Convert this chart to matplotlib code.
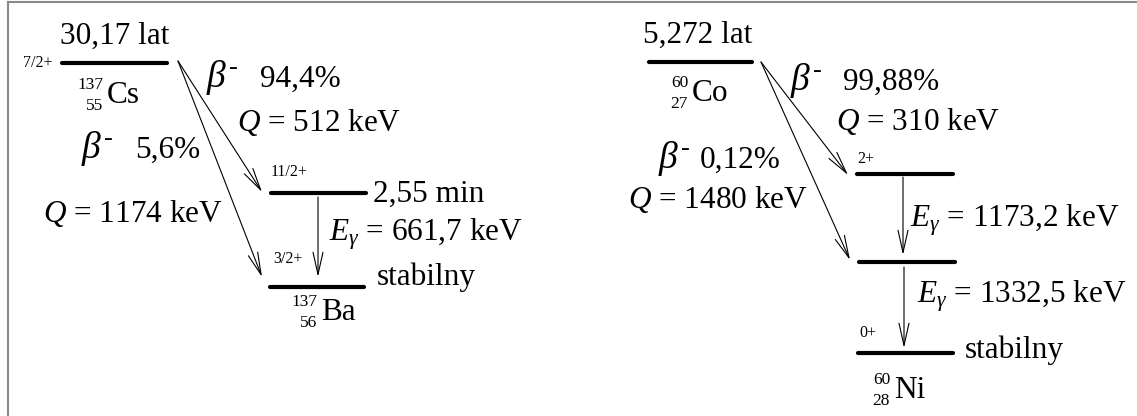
import matplotlib.pyplot as plt

plt.rcParams['font.family'] = 'Liberation Serif'
plt.rcParams['mathtext.fontset'] = 'custom'
plt.rcParams['mathtext.rm'] = 'Liberation Serif'
plt.rcParams['mathtext.it'] = 'Liberation Serif:italic'

# Cs-137 -> Ba-137
cs_halflife = '30,17 lat'
cs_spins = ['7/2+', '11/2+', '3/2+']
cs_branch = ['94,4%', '5,6%']
cs_q = ['512', '1174']
cs_gamma = ['661,7']
ba_states = ['2,55 min', 'stabilny']

# Co-60 -> Ni-60
co_halflife = '5,272 lat'
ni_spins = ['2+', '0+']
co_branch = ['99,88%', '0,12%']
co_q = ['310', '1480']
co_gamma = ['1173,2', '1332,5']
ni_state = 'stabilny'

# nuclides: (A, Z, symbol)
parents = [(137, 55, 'Cs'), (60, 27, 'Co')]
daughters = [(137, 56, 'Ba'), (60, 28, 'Ni')]

# layout in pixel coords of the picture
cs_lvl = [(62, 167, 63), (271, 366, 193), (270, 364, 287)]
co_lvl = [(649, 752, 62), (857, 953, 174), (859, 955, 262), (858, 953, 353)]

BIG = 22.5
SMALL = 11.5
ISO = 12.5

fig = plt.figure(figsize=(11.37, 4.16), dpi=100)
ax = fig.add_axes([0, 0, 1, 1])
ax.set_xlim(0, 1137)
ax.set_ylim(416, 0)
ax.axis('off')

# frame (top and left only)
ax.plot([8, 1137], [2, 2], color='#8a8a8a', lw=1.5)
ax.plot([8, 8], [2, 416], color='#8a8a8a', lw=1.5)


def level(x0, x1, y):
    ax.plot([x0, x1], [y, y], color='black', lw=3, solid_capstyle='round')


def arrow(x0, y0, x1, y1):
    ax.annotate('', xy=(x1, y1), xytext=(x0, y0),
                arrowprops=dict(arrowstyle='->,head_length=0.8,head_width=0.18',
                                color='black', lw=0.8, mutation_scale=20,
                                shrinkA=0, shrinkB=0))


def nuclide(x, y, iso):
    # x = left edge of symbol, y = baseline
    a, z, sym = iso
    ax.text(x, y, sym, fontsize=BIG, ha='left', va='baseline')
    ax.text(x - 4, y - 14, str(a), fontsize=ISO, ha='right', va='baseline')
    ax.text(x - 4, y + 7, str(z), fontsize=ISO, ha='right', va='baseline')


def txt(x, y, s, size=BIG, ha='left'):
    ax.text(x, y, s, fontsize=size, ha=ha, va='baseline')


def beta(x, y, pct, gap=52):
    txt(x - 2, y, r'$\beta^{\text{-}}$', size=27)
    txt(x + gap, y, pct)


# ---- left scheme: Cs-137
for x0, x1, y in cs_lvl:
    level(x0, x1, y)
txt(115, 44, cs_halflife, ha='center')
txt(53, 67, cs_spins[0], SMALL, ha='right')
txt(271, 176, cs_spins[1], SMALL)
txt(273, 263, cs_spins[2], SMALL)
nuclide(107, 103, parents[0])
nuclide(321, 320, daughters[0])

arrow(178, 61, 262, 192)
arrow(178, 61, 262, 277)
arrow(318, 197, 318, 277)

beta(208, 87, cs_branch[0])
txt(237, 131, r'$Q$ = ' + cs_q[0] + ' keV')
beta(83, 158, cs_branch[1])
txt(43, 222, r'$Q$ = ' + cs_q[1] + ' keV')
txt(373, 202, ba_states[0])
txt(329, 240, r'$E_{\gamma}$ = ' + cs_gamma[0] + ' keV')
txt(377, 285, ba_states[1])

# ---- right scheme: Co-60
for x0, x1, y in co_lvl:
    level(x0, x1, y)
txt(698, 43, co_halflife, ha='center')
txt(857, 163, ni_spins[0], SMALL)
txt(859, 337, ni_spins[1], SMALL)
nuclide(692, 101, parents[1])
nuclide(894, 398, daughters[1])

arrow(761, 62, 848, 175)
arrow(761, 62, 850, 260)
arrow(903, 177, 903, 255)
arrow(904, 267, 904, 348)

beta(792, 90, co_branch[0], gap=51)
txt(836, 130, r'$Q$ = ' + co_q[0] + ' keV')
beta(660, 168, co_branch[1], gap=40)
txt(628, 208, r'$Q$ = ' + co_q[1] + ' keV')
txt(910, 227, r'$E_{\gamma}$ = ' + co_gamma[0] + ' keV')
txt(917, 302, r'$E_{\gamma}$ = ' + co_gamma[1] + ' keV')
txt(965, 358, ni_state)

fig.savefig('out.png', dpi=100)
